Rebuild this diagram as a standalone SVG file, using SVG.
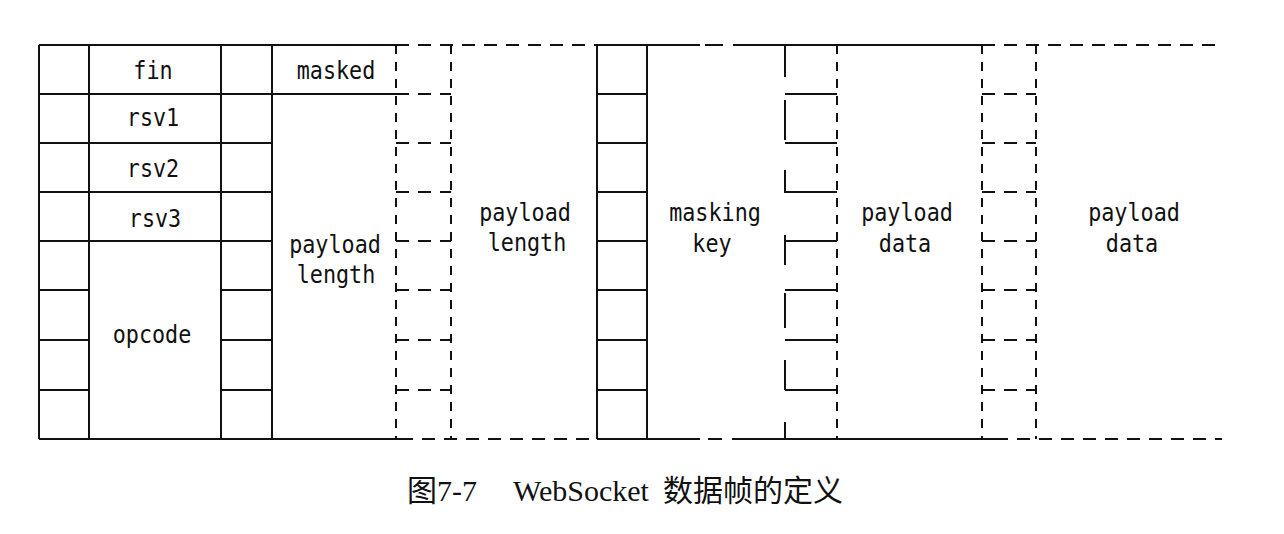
<svg xmlns="http://www.w3.org/2000/svg" width="1284" height="534" viewBox="0 0 1284 534">
  <style>
    .s { stroke: #111; stroke-width: 2; fill: none; }
    .dh { stroke: #111; stroke-width: 2; fill: none; stroke-dasharray: 13 9; }
    .dv { stroke: #111; stroke-width: 2; fill: none; stroke-dasharray: 9 8; }
    .t { font-family: 'DejaVu Sans Mono', 'Liberation Mono', monospace; font-size: 24px; fill: #111; text-anchor: middle; }
    .cap { font-family: 'Liberation Serif', 'Noto Sans CJK SC', serif; font-size: 30px; fill: #111; }
  </style>
  <rect width="1284" height="534" fill="#fff"/>

  <g id="grid-solid">
    <path class="s" d="M39 45H396 M39 439H400"/>
    <path class="s" d="M39 45V439 M89 45V439 M221 45V439 M272 45V439"/>
    <path class="s" d="M39 94H89 M39 143H89 M39 192H89 M39 241H89 M39 290H89 M39 340H89 M39 390H89"/>
    <path class="s" d="M89 94H221 M89 143H221 M89 192H221 M89 241H221"/>
    <path class="s" d="M221 94H272 M221 143H272 M221 192H272 M221 241H272 M221 290H272 M221 340H272 M221 390H272"/>
    <path class="s" d="M272 94H396"/>
    <path class="s" d="M597 45V439 M647 45V439"/>
    <path class="s" d="M597 94H647 M597 143H647 M597 192H647 M597 241H647 M597 290H647 M597 340H647 M597 390H647"/>
    <path class="s" d="M597 45H700 M705 45H723 M733 45H982"/>
    <path class="s" d="M597 439H700 M708 439H722 M732 439H995"/>
    <path class="s" d="M785 94H837 M785 143H837 M785 192H837 M785 241H837 M785 290H837 M785 340H837 M785 390H837"/>
    <path class="s" d="M785 45V77 M785 100V140 M785 170V193 M785 235V265 M785 293V328 M785 360V390 M785 422V439"/>
  </g>

  <g id="grid-dashed">
    <path class="dh" d="M396 45H597 M400 439H597"/>
    <path class="dv" d="M396 45V439 M451 45V439"/>
    <path class="dh" d="M396 94H451 M396 143H451 M396 192H451 M396 241H451 M396 290H451 M396 340H451 M396 390H451"/>
    <path class="dv" d="M837 45V439"/>
    <path class="dv" d="M982 45V439 M1036 45V439"/>
    <path class="dh" d="M982 94H1036 M982 143H1036 M982 192H1036 M982 241H1036 M982 290H1036 M982 340H1036 M982 390H1036"/>
    <path class="dh" d="M982 45H1222 M995 439H1222"/>
  </g>

  <g id="fin"><text class="t" x="153" y="79" textLength="39.3" lengthAdjust="spacingAndGlyphs">fin</text></g>
  <g id="rsv1"><text class="t" x="153" y="126" textLength="52.4" lengthAdjust="spacingAndGlyphs">rsv1</text></g>
  <g id="rsv2"><text class="t" x="153" y="177" textLength="52.4" lengthAdjust="spacingAndGlyphs">rsv2</text></g>
  <g id="rsv3"><text class="t" x="155" y="227" textLength="52.4" lengthAdjust="spacingAndGlyphs">rsv3</text></g>
  <g id="opcode"><text class="t" x="152" y="343" textLength="78.6" lengthAdjust="spacingAndGlyphs">opcode</text></g>
  <g id="masked"><text class="t" x="336" y="79" textLength="78.6" lengthAdjust="spacingAndGlyphs">masked</text></g>
  <g id="payload-length-7">
    <text class="t" x="335" y="253" textLength="91.7" lengthAdjust="spacingAndGlyphs">payload</text>
    <text class="t" x="336" y="283" textLength="78.6" lengthAdjust="spacingAndGlyphs">length</text>
  </g>
  <g id="payload-length-ext">
    <text class="t" x="525" y="221" textLength="91.7" lengthAdjust="spacingAndGlyphs">payload</text>
    <text class="t" x="527" y="251" textLength="78.6" lengthAdjust="spacingAndGlyphs">length</text>
  </g>
  <g id="masking-key">
    <text class="t" x="715" y="221" textLength="91.7" lengthAdjust="spacingAndGlyphs">masking</text>
    <text class="t" x="712" y="252" textLength="39.3" lengthAdjust="spacingAndGlyphs">key</text>
  </g>
  <g id="payload-data-1">
    <text class="t" x="907" y="221" textLength="91.7" lengthAdjust="spacingAndGlyphs">payload</text>
    <text class="t" x="905" y="252" textLength="52.4" lengthAdjust="spacingAndGlyphs">data</text>
  </g>
  <g id="payload-data-2">
    <text class="t" x="1134" y="221" textLength="91.7" lengthAdjust="spacingAndGlyphs">payload</text>
    <text class="t" x="1132" y="252" textLength="52.4" lengthAdjust="spacingAndGlyphs">data</text>
  </g>

  <g id="caption">
    <text class="cap" y="501"><tspan x="407">图7-7</tspan><tspan x="513">WebSocket</tspan><tspan x="663">数据帧的定义</tspan></text>
  </g>
</svg>
